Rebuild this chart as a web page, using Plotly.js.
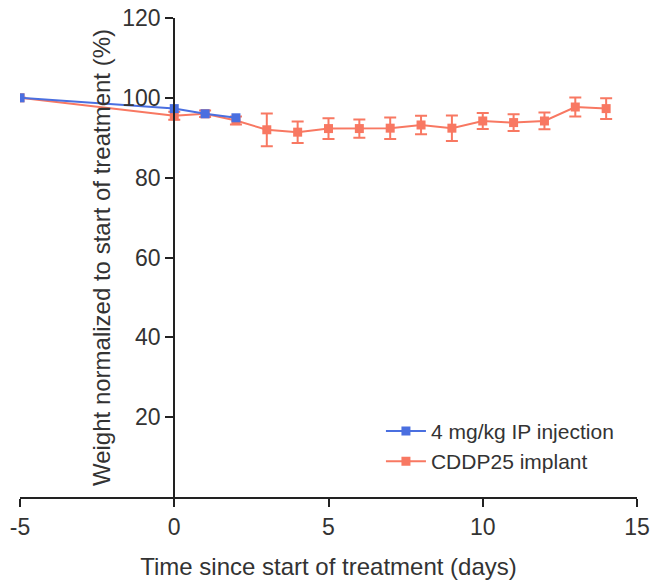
<!DOCTYPE html>
<html>
<head>
<meta charset="utf-8">
<script src="https://cdn.plot.ly/plotly-3.0.1.min.js"></script>
<style>html,body{margin:0;padding:0;background:#fff;}#chart{width:654px;height:587px;}</style>
</head>
<body>
<div id="chart"></div>
<script>
var ipDays = [-5, 0, 1, 2];
var ipWeight = [100, 97.3, 96, 95];

var implantDays = [-5, 0, 1, 2, 3, 4, 5, 6, 7, 8, 9, 10, 11, 12, 13, 14];
var implantWeight = [100, 95.5, 96, 94.3, 92, 91.4, 92.3, 92.3, 92.4, 93.2, 92.4, 94.2, 93.8, 94.2, 97.7, 97.3];
var implantErr = [0, 1, 0.8, 1, 4.1, 2.7, 2.6, 2.3, 2.7, 2.3, 3.2, 2, 2.1, 2.1, 2.4, 2.6];

var xTicks = [-5, 0, 5, 10, 15];
var yTicks = [20, 40, 60, 80, 100, 120];

var blue = '#4a6fe0';
var red = '#f87862';

var traces = [
  {
    x: implantDays, y: implantWeight, type: 'scatter', mode: 'lines+markers',
    name: 'CDDP25 implant', legendrank: 2,
    line: {color: red, width: 2},
    marker: {symbol: 'square', size: 9, color: red},
    error_y: {type: 'data', array: implantErr, visible: true, color: red, thickness: 2, width: 6}
  },
  {
    x: ipDays, y: ipWeight, type: 'scatter', mode: 'lines+markers',
    name: '4 mg/kg IP injection', legendrank: 1,
    line: {color: blue, width: 2},
    marker: {symbol: 'square', size: 9, color: blue}
  }
];

var fam = 'Liberation Sans, Arial, sans-serif';
var tickFont = {family: fam, size: 23, color: '#333'};
var titleFont = {family: fam, size: 24, color: '#333'};

var layout = {
  width: 654, height: 587,
  margin: {l: 20, r: 17, t: 18, b: 90},
  paper_bgcolor: '#fff', plot_bgcolor: '#fff',
  font: tickFont,
  showlegend: true,
  legend: {x: 0.585, y: 0.18, xanchor: 'left', yanchor: 'top', itemwidth: 40, font: {family: fam, size: 21, color: '#333'}, bgcolor: 'rgba(0,0,0,0)', tracegroupgap: 0},
  xaxis: {
    range: [-5, 15], tickvals: xTicks, ticktext: xTicks.map(String),
    showline: true, linecolor: '#222', linewidth: 2, ticks: 'outside', ticklen: 8, tickwidth: 2, tickcolor: '#222',
    showgrid: false, zeroline: false, tickfont: tickFont,
    title: {text: 'Time since start of treatment (days)', font: titleFont, standoff: 20}
  },
  yaxis: {
    range: [0, 120], tickvals: yTicks, ticktext: yTicks.map(String),
    anchor: 'free', position: 0.25,
    showline: true, linecolor: '#222', linewidth: 2, ticks: 'outside', ticklen: 8, tickwidth: 2, tickcolor: '#222',
    showgrid: false, zeroline: false, tickfont: tickFont,
    title: {text: 'Weight normalized to start of treatment (%)', font: titleFont, standoff: 4}
  }
};

Plotly.newPlot('chart', traces, layout, {staticPlot: true, displayModeBar: false});
</script>
</body>
</html>
